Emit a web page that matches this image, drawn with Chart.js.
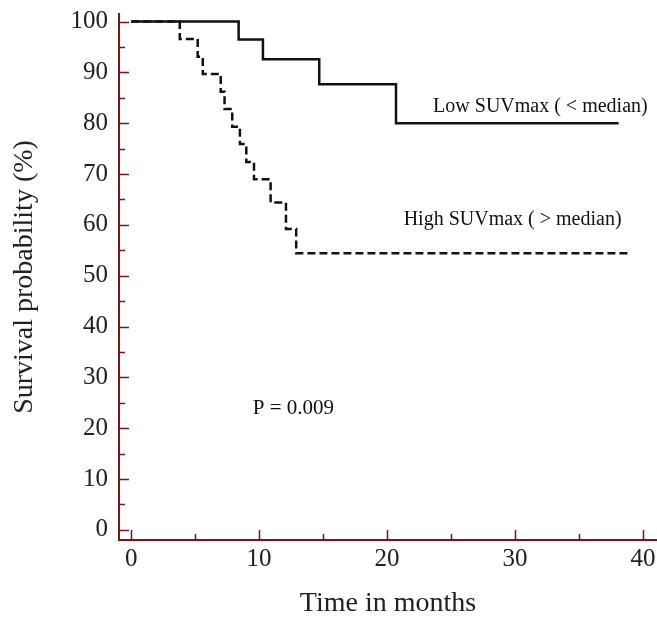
<!DOCTYPE html>
<html>
<head>
<meta charset="utf-8">
<script src="https://cdn.jsdelivr.net/npm/chart.js@4.4.1/dist/chart.umd.min.js"></script>
<style>
  html, body { margin: 0; padding: 0; background: #fff; }
  canvas { display: block; }
</style>
</head>
<body>
<canvas id="chart" width="657" height="621"></canvas>
<script>
// Kaplan-Meier steps: time (months) of each drop and survival (%) after it
const lowTimes = [0, 8.4, 10.3, 14.7, 20.7, 38.1];
const lowSurvival = [100, 96.5, 92.6, 87.7, 80.0, 80.0];

const highTimes = [0, 3.8, 5.2, 5.6, 7.0, 7.3, 7.9, 8.5, 9.0, 9.6, 10.9, 12.1, 12.9, 38.8];
const highSurvival = [100, 96.6, 93.1, 89.7, 86.2, 82.8, 79.3, 75.9, 72.4, 69.0, 64.4, 59.2, 54.4, 54.4];

const xTickValues = [0, 10, 20, 30, 40];
const yTickValues = [0, 10, 20, 30, 40, 50, 60, 70, 80, 90, 100];

const lowLabel = "Low SUVmax ( < median)";
const highLabel = "High SUVmax ( > median)";
const pLabel = "P = 0.009";

const axisColor = "#7a1515";
const serif = "'Liberation Serif', 'DejaVu Serif', serif";

function toPoints(xs, ys) {
  return xs.map((x, i) => ({ x: x, y: ys[i] }));
}

// inward tick marks + text labels placed in data coordinates
const extras = {
  id: "extras",
  afterDraw(chart) {
    const { ctx, scales } = chart;
    const xs = scales.x;
    const ys = scales.y;
    const area = chart.chartArea;

    ctx.save();
    ctx.strokeStyle = axisColor;
    ctx.lineWidth = 1.5;
    ctx.beginPath();
    for (let v = 0; v <= 100; v += 5) {
      const py = Math.round(ys.getPixelForValue(v)) + 0.5;
      const len = v % 10 === 0 ? 10 : 6;
      ctx.moveTo(area.left, py);
      ctx.lineTo(area.left + len, py);
    }
    for (let v = 0; v <= 40; v += 5) {
      const px = Math.round(xs.getPixelForValue(v)) + 0.5;
      const len = v % 10 === 0 ? 10 : 6;
      ctx.moveTo(px, area.bottom);
      ctx.lineTo(px, area.bottom - len);
    }
    ctx.stroke();

    ctx.fillStyle = "#111";
    ctx.font = "20px " + serif;
    ctx.textAlign = "left";
    ctx.textBaseline = "middle";
    ctx.fillText(lowLabel, xs.getPixelForValue(23.6), ys.getPixelForValue(83.3));
    ctx.fillText(highLabel, xs.getPixelForValue(21.3), ys.getPixelForValue(61));
    ctx.font = "21px " + serif;
    ctx.fillText(pLabel, xs.getPixelForValue(9.5), ys.getPixelForValue(23.8));
    ctx.restore();
  },
};

new Chart(document.getElementById("chart"), {
  type: "line",
  data: {
    datasets: [
      {
        label: lowLabel,
        data: toPoints(lowTimes, lowSurvival),
        stepped: "before",
        borderColor: "#111",
        borderWidth: 2.5,
        pointRadius: 0,
        fill: false,
      },
      {
        label: highLabel,
        data: toPoints(highTimes, highSurvival),
        stepped: "before",
        borderColor: "#111",
        borderWidth: 2.5,
        borderDash: [8, 4],
        pointRadius: 0,
        fill: false,
      },
    ],
  },
  options: {
    responsive: false,
    animation: false,
    layout: { padding: { top: 14, right: 0, bottom: 0, left: 0 } },
    plugins: {
      legend: { display: false },
      tooltip: { enabled: false },
    },
    scales: {
      x: {
        type: "linear",
        min: -0.95,
        max: 41.1,
        afterBuildTicks: (scale) => {
          scale.ticks = xTickValues.map((v) => ({ value: v }));
        },
        afterFit: (scale) => {
          scale.height = 81;
          scale.paddingLeft = 0;
          scale.paddingRight = 0;
        },
        grid: { display: false, drawTicks: false },
        border: { display: true, color: axisColor, width: 2 },
        ticks: {
          padding: 4,
          color: "#222",
          font: { family: serif, size: 25 },
          maxRotation: 0,
        },
        title: {
          display: true,
          text: "Time in months",
          color: "#222",
          font: { family: serif, size: 28 },
          padding: { top: 0, bottom: 1 },
        },
      },
      y: {
        type: "linear",
        min: -2,
        max: 101.5,
        afterBuildTicks: (scale) => {
          scale.ticks = yTickValues.map((v) => ({ value: v }));
        },
        afterFit: (scale) => {
          scale.width = 119;
          scale.paddingTop = 0;
          scale.paddingBottom = 0;
        },
        grid: { display: false, drawTicks: false },
        border: { display: true, color: axisColor, width: 2 },
        ticks: {
          padding: 11,
          color: "#222",
          font: { family: serif, size: 25 },
        },
        title: {
          display: true,
          text: "Survival probability (%)",
          color: "#222",
          font: { family: serif, size: 28 },
          padding: { top: 8, bottom: 0 },
        },
      },
    },
  },
  plugins: [extras],
});
</script>
</body>
</html>
